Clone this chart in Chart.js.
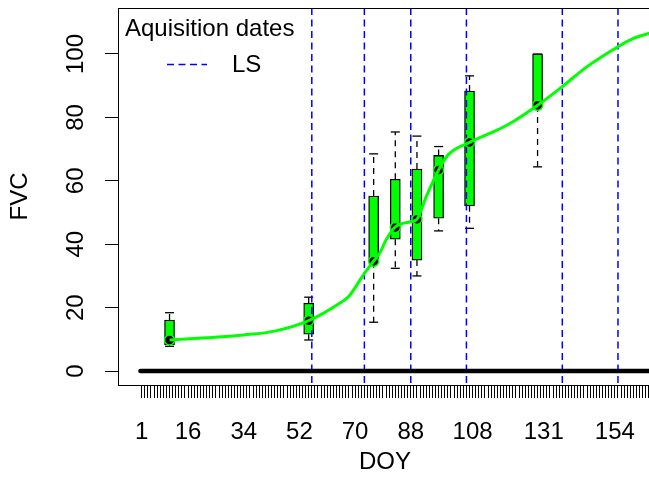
<!DOCTYPE html>
<html>
<head>
<meta charset="utf-8">
<script src="https://cdn.jsdelivr.net/npm/chart.js@4"></script>
<style>
  html, body { margin: 0; padding: 0; background: #fff; overflow: hidden; }
</style>
</head>
<body>
<canvas id="chart" width="660" height="494"></canvas>
<script>
  // field samples per acquisition day (box plots)
  var boxDays     = [10, 55, 76, 83, 90, 97, 107, 129];
  var q1          = [8.3, 11.6, 34.5, 41.6, 35.0, 48.2, 52.1, 83.6];
  var q3          = [16.1, 21.4, 55.2, 60.5, 63.7, 68.0, 88.3, 100.0];
  var whiskerLow  = [7.8, 9.8, 15.4, 32.4, 30.0, 44.2, 45.0, 64.4];
  var whiskerHigh = [18.4, 23.3, 68.5, 75.4, 74.1, 70.8, 93.1, 100.0];
  var medians     = [9.8, 15.9, 34.6, 45.3, 47.9, 63.4, 72.1, 83.8];

  // fitted FVC curve
  var curveDays = [10, 22, 34, 44, 55, 65, 68, 73, 76, 78, 80, 83, 88, 90, 93, 97, 100, 107, 117, 122, 129, 137, 145, 155, 160, 165, 170];
  var curveFvc  = [9.8, 10.5, 11.4, 12.6, 15.9, 21.4, 23.6, 30.8, 34.7, 37.3, 41.3, 45.5, 47.1, 47.9, 55.0, 63.4, 68.1, 72.1, 76.5, 79.2, 83.8, 89.7, 96.0, 102.3, 104.9, 106.5, 107.8];

  // Landsat acquisition dates
  var lsDays = [56, 73, 88, 106, 137, 155];

  // empty days (all-zero boxes)
  var zeroDays = [0.6, 170];

  var xLabels = [1, 16, 34, 52, 70, 88, 108, 131, 154];
  var yTicks = [0, 20, 40, 60, 80, 100];
  var firstDoy = 1, lastDoy = 166;

  var FONT = '"Liberation Sans", Arial, sans-serif';
  var GREEN = '#00ff00';
  var BLUE = '#0000ff';

  var extras = {
    id: 'extras',
    afterDatasetDraw: function(chart, args) {
      if (args.index !== 0) return;
      var ctx = chart.ctx, xs = chart.scales.x, ys = chart.scales.y, area = chart.chartArea;
      ctx.save();
      ctx.beginPath();
      ctx.rect(area.left, area.top, area.right - area.left, area.bottom - area.top);
      ctx.clip();
      // whiskers
      ctx.strokeStyle = '#000';
      ctx.lineWidth = 1.3;
      for (var i = 0; i < boxDays.length; i++) {
        var x = xs.getPixelForValue(boxDays[i]);
        var pairs = [[q3[i], whiskerHigh[i]], [q1[i], whiskerLow[i]]];
        pairs.forEach(function(p) {
          var y0 = ys.getPixelForValue(p[0]), y1 = ys.getPixelForValue(p[1]);
          ctx.setLineDash([6, 5]);
          ctx.beginPath(); ctx.moveTo(x, y0); ctx.lineTo(x, y1); ctx.stroke();
          ctx.setLineDash([]);
          ctx.beginPath(); ctx.moveTo(x - 4.5, y1); ctx.lineTo(x + 4.5, y1); ctx.stroke();
        });
      }
      // LS acquisition lines
      ctx.strokeStyle = BLUE;
      ctx.lineWidth = 1.5;
      ctx.setLineDash([7, 4.5]);
      lsDays.forEach(function(d) {
        var x = xs.getPixelForValue(d);
        ctx.beginPath(); ctx.moveTo(x, area.top); ctx.lineTo(x, area.bottom); ctx.stroke();
      });
      ctx.restore();
    },
    afterDraw: function(chart) {
      var ctx = chart.ctx, a = chart.chartArea;
      ctx.save();
      ctx.strokeStyle = '#000';
      ctx.lineWidth = 1;
      ctx.strokeRect(a.left + 0.5, a.top + 0.5, a.right - a.left, a.bottom - a.top);
      // legend
      ctx.fillStyle = '#000';
      ctx.font = '24px ' + FONT;
      ctx.textBaseline = 'middle';
      ctx.fillText('Aquisition dates', 125, 29);
      ctx.fillText('LS', 232, 65);
      ctx.strokeStyle = BLUE;
      ctx.lineWidth = 1.5;
      ctx.setLineDash([7, 4.5]);
      ctx.beginPath(); ctx.moveTo(167, 64.5); ctx.lineTo(207, 64.5); ctx.stroke();
      ctx.restore();
    }
  };

  var chart = new Chart(document.getElementById('chart'), {
    type: 'line',
    data: {
      datasets: [{
        type: 'bar',
        data: boxDays.map(function(d, i) { return {x: d, y: [q1[i], q3[i]]}; }),
        backgroundColor: GREEN,
        borderColor: '#000',
        borderWidth: 1.3,
        borderSkipped: false,
        barThickness: 10,
        order: 4
      }, {
        data: zeroDays.map(function(d) { return {x: d, y: 0}; }),
        borderColor: '#000',
        borderWidth: 4.5,
        borderCapStyle: 'round',
        pointRadius: 0,
        order: 3
      }, {
        data: boxDays.map(function(d, i) { return {x: d, y: medians[i]}; }),
        showLine: false,
        pointRadius: 5,
        pointBackgroundColor: '#000',
        pointBorderColor: GREEN,
        pointBorderWidth: 1.5,
        order: 2
      }, {
        data: curveDays.map(function(d, i) { return {x: d, y: curveFvc[i]}; }),
        borderColor: GREEN,
        borderWidth: 3,
        pointRadius: 0,
        cubicInterpolationMode: 'monotone',
        fill: false,
        order: 1
      }]
    },
    options: {
      responsive: false,
      animation: false,
      events: [],
      layout: { padding: { top: 8, right: 8, left: 0, bottom: 0 } },
      plugins: { legend: { display: false }, tooltip: { enabled: false } },
      scales: {
        x: {
          type: 'linear',
          min: -6.66,
          max: 166,
          offset: false,
          grid: { drawOnChartArea: false, offset: false, drawTicks: true, tickLength: 13, tickColor: '#000', tickWidth: 1 },
          border: { display: true, color: '#000' },
          afterBuildTicks: function(scale) {
            var t = [];
            for (var d = firstDoy; d <= lastDoy; d++) t.push({value: d});
            scale.ticks = t;
          },
          afterFit: function(scale) { scale.height = 109; scale.paddingLeft = 0; scale.paddingRight = 0; },
          ticks: {
            autoSkip: false, maxRotation: 0, minRotation: 0, padding: 20, color: '#000',
            font: { family: FONT, size: 24 },
            callback: function(v) { return xLabels.indexOf(v) >= 0 ? String(v) : ''; }
          },
          title: { display: true, text: 'DOY', color: '#000', font: { family: FONT, size: 24 }, padding: { bottom: 17 } }
        },
        y: {
          min: -4.4,
          max: 114.5,
          grid: { drawOnChartArea: false, drawTicks: true, tickLength: 13, tickColor: '#000', tickWidth: 1 },
          border: { display: true, color: '#000' },
          afterBuildTicks: function(scale) { scale.ticks = yTicks.map(function(v) { return {value: v}; }); },
          afterFit: function(scale) { scale.width = 118; scale.paddingTop = 0; scale.paddingBottom = 0; },
          ticks: {
            minRotation: 90, maxRotation: 90, crossAlign: 'center', padding: 9, color: '#000',
            font: { family: FONT, size: 24 }
          },
          title: { display: true, text: 'FVC', color: '#000', font: { family: FONT, size: 24 }, padding: { top: 6 } }
        }
      }
    },
    plugins: [extras]
  });
</script>
</body>
</html>
